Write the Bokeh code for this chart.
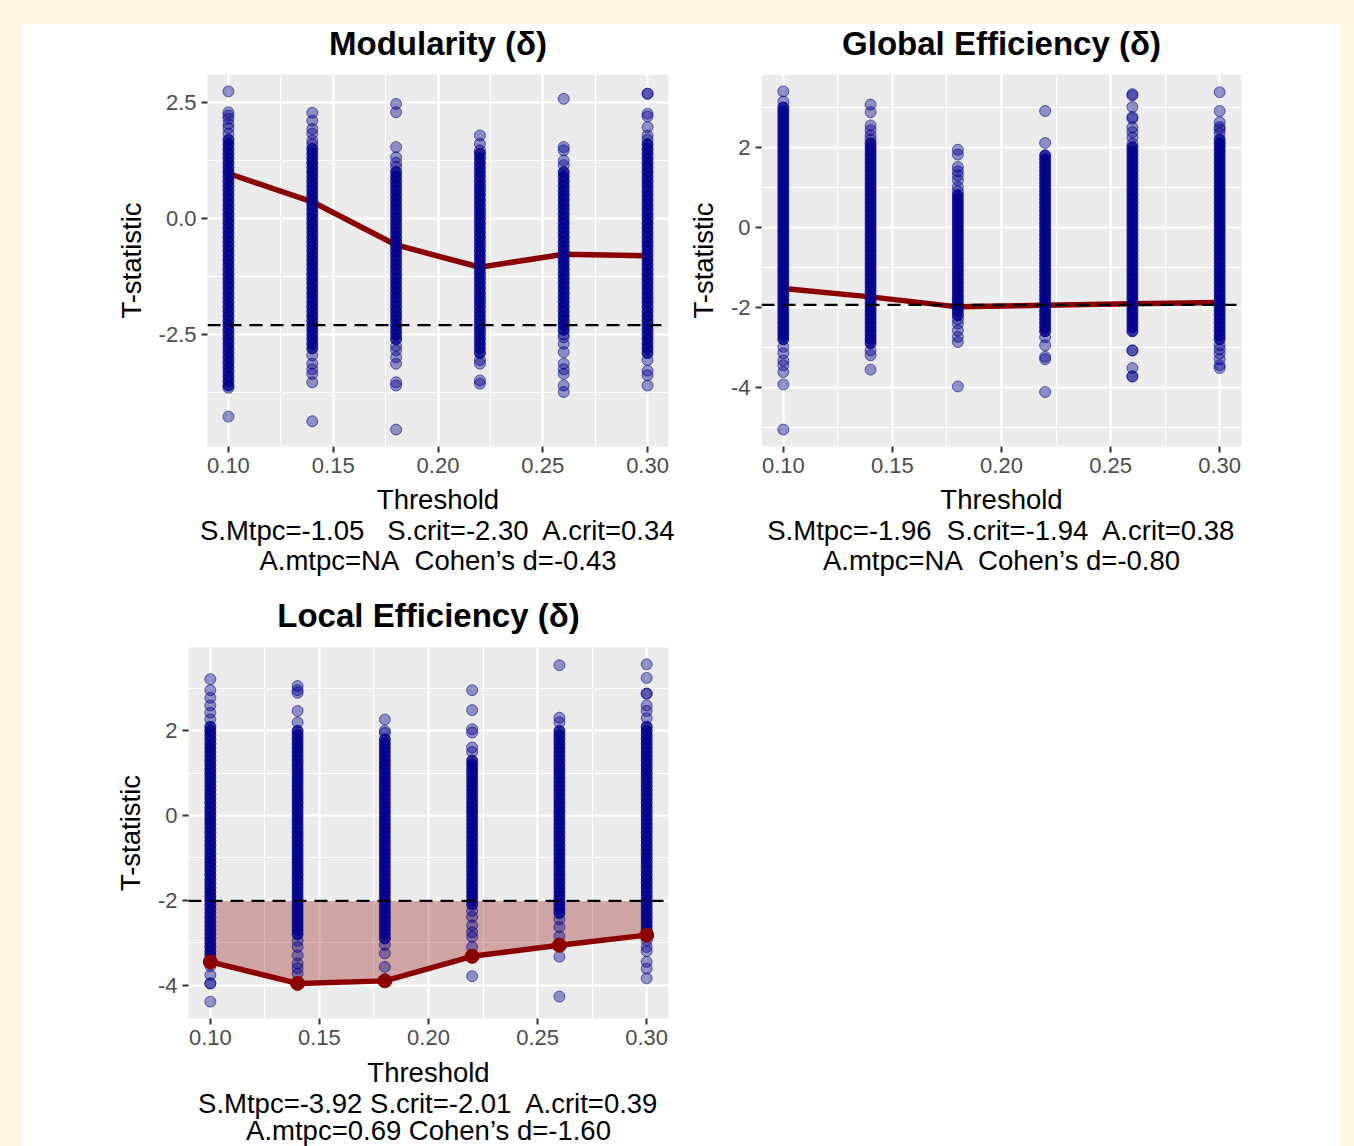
from bokeh.plotting import figure
from bokeh.layouts import column, row
from bokeh.models import Spacer, Span, FixedTicker, Range1d, NumeralTickFormatter
from bokeh.core.properties import value
from bokeh.embed import file_html
from bokeh.resources import INLINE

FONT = "Liberation Sans"
NB = "\u00a0"

# ---------------- data ----------------
thresholds = [0.10, 0.14, 0.18, 0.22, 0.26, 0.30]
x_ticks = [0.10, 0.15, 0.20, 0.25, 0.30]
x_minor = [0.125, 0.175, 0.225, 0.275]

# Modularity
mod_title = "Modularity (δ)"
mod_line = [0.97, 0.36, -0.57, -1.05, -0.77, -0.80]
mod_crit = -2.30
mod_yticks = [-2.5, 0.0, 2.5]
mod_yminor = [-3.75, -1.25, 1.25]
mod_caption = ["Threshold", "S.Mtpc=-1.05" + NB + NB + " S.crit=-2.30" + NB + " A.crit=0.34", "A.mtpc=NA" + NB + " Cohen’s d=-0.43"]
mod_core_10 = [-3.6, -3.5, -3.4, -3.3, -3.2, -3.1, -3.0, -2.9, -2.8, -2.7, -2.6, -2.5, -2.4, -2.3, -2.2, -2.1, -2.0, -1.9, -1.8, -1.7, -1.6, -1.5, -1.4, -1.3, -1.2, -1.1, -1.0, -0.9, -0.8, -0.7, -0.6, -0.5, -0.4, -0.3, -0.2, -0.1, 0.0, 0.1, 0.2, 0.3, 0.4, 0.5, 0.6, 0.7, 0.8, 0.9, 1.0, 1.1, 1.2, 1.3, 1.4, 1.5, 1.6, 1.7]
mod_tail_10 = [2.74, 2.29, 2.22, 2.15, 2.04, 1.95, 1.83, -3.65, -4.27]
mod_core_14 = [-2.8, -2.7, -2.6, -2.5, -2.4, -2.3, -2.2, -2.1, -2.0, -1.9, -1.8, -1.7, -1.6, -1.5, -1.4, -1.3, -1.2, -1.1, -1.0, -0.9, -0.8, -0.7, -0.6, -0.5, -0.4, -0.3, -0.2, -0.1, 0.0, 0.1, 0.2, 0.3, 0.4, 0.5, 0.6, 0.7, 0.8, 0.9, 1.0, 1.1, 1.2, 1.3, 1.4, 1.5]
mod_tail_14 = [2.28, 2.11, 1.93, 1.83, 1.68, 1.6, -2.95, -3.13, -3.25, -3.35, -3.53, -4.37]
mod_core_18 = [-2.6, -2.5, -2.4, -2.3, -2.2, -2.1, -2.0, -1.9, -1.8, -1.7, -1.6, -1.5, -1.4, -1.3, -1.2, -1.1, -1.0, -0.9, -0.8, -0.7, -0.6, -0.5, -0.4, -0.3, -0.2, -0.1, 0.0, 0.1, 0.2, 0.3, 0.4, 0.5, 0.6, 0.7, 0.8, 0.9, 1.0]
mod_tail_18 = [2.47, 2.29, 1.54, 1.32, 1.2, 1.11, -2.75, -2.84, -2.99, -3.13, -3.53, -3.60, -4.55]
mod_core_22 = [-2.9, -2.8, -2.7, -2.6, -2.5, -2.4, -2.3, -2.2, -2.1, -2.0, -1.9, -1.8, -1.7, -1.6, -1.5, -1.4, -1.3, -1.2, -1.1, -1.0, -0.9, -0.8, -0.7, -0.6, -0.5, -0.4, -0.3, -0.2, -0.1, 0.0, 0.1, 0.2, 0.3, 0.4, 0.5, 0.6, 0.7, 0.8, 0.9, 1.0, 1.1, 1.2, 1.3, 1.4]
mod_tail_22 = [1.79, 1.61, 1.47, -3.05, -3.13, -3.49, -3.56]
mod_core_26 = [-2.4, -2.3, -2.2, -2.1, -2.0, -1.9, -1.8, -1.7, -1.6, -1.5, -1.4, -1.3, -1.2, -1.1, -1.0, -0.9, -0.8, -0.7, -0.6, -0.5, -0.4, -0.3, -0.2, -0.1, 0.0, 0.1, 0.2, 0.3, 0.4, 0.5, 0.6, 0.7, 0.8, 0.9, 1.0]
mod_tail_26 = [2.58, 1.54, 1.47, 1.25, 1.15, -2.5, -2.56, -2.70, -2.88, -3.13, -3.25, -3.35, -3.60, -3.74]
mod_core_30 = [-2.9, -2.8, -2.7, -2.6, -2.5, -2.4, -2.3, -2.2, -2.1, -2.0, -1.9, -1.8, -1.7, -1.6, -1.5, -1.4, -1.3, -1.2, -1.1, -1.0, -0.9, -0.8, -0.7, -0.6, -0.5, -0.4, -0.3, -0.2, -0.1, 0.0, 0.1, 0.2, 0.3, 0.4, 0.5, 0.6, 0.7, 0.8, 0.9, 1.0, 1.1, 1.2, 1.3, 1.4, 1.5, 1.6]
mod_tail_30 = [2.69, 2.69, 2.26, 2.2, 1.97, 1.79, 1.7, -3.05, -3.28, -3.38, -3.60]

# Global efficiency
glob_title = "Global Efficiency (δ)"
glob_line = [-1.53, -1.74, -1.99, -1.95, -1.91, -1.88]
glob_crit = -1.94
glob_yticks = [-4, -2, 0, 2]
glob_yminor = [-5, -3, -1, 1, 3]
glob_caption = ["Threshold", "S.Mtpc=-1.96" + NB + " S.crit=-1.94" + NB + " A.crit=0.38", "A.mtpc=NA" + NB + " Cohen’s d=-0.80"]
glob_core_10 = [-2.8, -2.7, -2.6, -2.5, -2.4, -2.3, -2.2, -2.1, -2.0, -1.9, -1.8, -1.7, -1.6, -1.5, -1.4, -1.3, -1.2, -1.1, -1.0, -0.9, -0.8, -0.7, -0.6, -0.5, -0.4, -0.3, -0.2, -0.1, 0.0, 0.1, 0.2, 0.3, 0.4, 0.5, 0.6, 0.7, 0.8, 0.9, 1.0, 1.1, 1.2, 1.3, 1.4, 1.5, 1.6, 1.7, 1.8, 1.9, 2.0, 2.1, 2.2, 2.3, 2.4, 2.5, 2.6, 2.7, 2.8, 2.9, 3.0]
glob_tail_10 = [3.40, 3.15, -2.99, -3.15, -3.33, -3.45, -3.62, -3.93, -5.06]
glob_core_14 = [-2.9, -2.8, -2.7, -2.6, -2.5, -2.4, -2.3, -2.2, -2.1, -2.0, -1.9, -1.8, -1.7, -1.6, -1.5, -1.4, -1.3, -1.2, -1.1, -1.0, -0.9, -0.8, -0.7, -0.6, -0.5, -0.4, -0.3, -0.2, -0.1, 0.0, 0.1, 0.2, 0.3, 0.4, 0.5, 0.6, 0.7, 0.8, 0.9, 1.0, 1.1, 1.2, 1.3, 1.4, 1.5, 1.6, 1.7, 1.8, 1.9, 2.0, 2.1]
glob_tail_14 = [3.07, 2.88, 2.55, 2.43, 2.3, 2.2, -3.08, -3.2, -3.56]
glob_core_18 = [-2.2, -2.1, -2.0, -1.9, -1.8, -1.7, -1.6, -1.5, -1.4, -1.3, -1.2, -1.1, -1.0, -0.9, -0.8, -0.7, -0.6, -0.5, -0.4, -0.3, -0.2, -0.1, 0.0, 0.1, 0.2, 0.3, 0.4, 0.5, 0.6, 0.7, 0.8]
glob_tail_18 = [1.94, 1.82, 1.51, 1.4, 1.3, 1.18, 1.01, 0.9, -2.3, -2.41, -2.58, -2.74, -2.87, -3.98]
glob_core_22 = [-2.6, -2.5, -2.4, -2.3, -2.2, -2.1, -2.0, -1.9, -1.8, -1.7, -1.6, -1.5, -1.4, -1.3, -1.2, -1.1, -1.0, -0.9, -0.8, -0.7, -0.6, -0.5, -0.4, -0.3, -0.2, -0.1, 0.0, 0.1, 0.2, 0.3, 0.4, 0.5, 0.6, 0.7, 0.8, 0.9, 1.0, 1.1, 1.2, 1.3, 1.4, 1.5, 1.6, 1.7, 1.8]
glob_tail_22 = [2.91, 2.11, -2.75, -2.95, -3.24, -3.3, -4.12]
glob_core_26 = [-2.6, -2.5, -2.4, -2.3, -2.2, -2.1, -2.0, -1.9, -1.8, -1.7, -1.6, -1.5, -1.4, -1.3, -1.2, -1.1, -1.0, -0.9, -0.8, -0.7, -0.6, -0.5, -0.4, -0.3, -0.2, -0.1, 0.0, 0.1, 0.2, 0.3, 0.4, 0.5, 0.6, 0.7, 0.8, 0.9, 1.0, 1.1, 1.2, 1.3, 1.4, 1.5, 1.6, 1.7, 1.8, 1.9, 2.0]
glob_tail_26 = [3.33, 3.30, 3.01, 2.76, 2.72, 2.5, 2.38, 2.25, 2.09, -3.08, -3.08, -3.52, -3.73, -3.73]
glob_core_30 = [-2.8, -2.7, -2.6, -2.5, -2.4, -2.3, -2.2, -2.1, -2.0, -1.9, -1.8, -1.7, -1.6, -1.5, -1.4, -1.3, -1.2, -1.1, -1.0, -0.9, -0.8, -0.7, -0.6, -0.5, -0.4, -0.3, -0.2, -0.1, 0.0, 0.1, 0.2, 0.3, 0.4, 0.5, 0.6, 0.7, 0.8, 0.9, 1.0, 1.1, 1.2, 1.3, 1.4, 1.5, 1.6, 1.7, 1.8, 1.9, 2.0, 2.1, 2.2]
glob_tail_30 = [3.38, 2.91, 2.63, 2.51, 2.45, 2.35, -2.95, -3.05, -3.16, -3.3, -3.45, -3.52]

# Local efficiency
loc_title = "Local Efficiency (δ)"
loc_line = [-3.45, -3.96, -3.90, -3.32, -3.06, -2.82]
loc_crit = -2.01
loc_yticks = [-4, -2, 0, 2]
loc_yminor = [-3, -1, 1, 3]
loc_caption = ["Threshold", "S.Mtpc=-3.92 S.crit=-2.01" + NB + " A.crit=0.39", "A.mtpc=0.69 Cohen’s d=-1.60"]
loc_core_10 = [-3.4, -3.3, -3.2, -3.1, -3.0, -2.9, -2.8, -2.7, -2.6, -2.5, -2.4, -2.3, -2.2, -2.1, -2.0, -1.9, -1.8, -1.7, -1.6, -1.5, -1.4, -1.3, -1.2, -1.1, -1.0, -0.9, -0.8, -0.7, -0.6, -0.5, -0.4, -0.3, -0.2, -0.1, 0.0, 0.1, 0.2, 0.3, 0.4, 0.5, 0.6, 0.7, 0.8, 0.9, 1.0, 1.1, 1.2, 1.3, 1.4, 1.5, 1.6, 1.7, 1.8, 1.9, 2.0, 2.1]
loc_tail_10 = [3.22, 2.96, 2.78, 2.6, 2.43, 2.27, -3.55, -3.76, -3.96, -3.96, -4.39]
loc_core_14 = [-2.8, -2.7, -2.6, -2.5, -2.4, -2.3, -2.2, -2.1, -2.0, -1.9, -1.8, -1.7, -1.6, -1.5, -1.4, -1.3, -1.2, -1.1, -1.0, -0.9, -0.8, -0.7, -0.6, -0.5, -0.4, -0.3, -0.2, -0.1, 0.0, 0.1, 0.2, 0.3, 0.4, 0.5, 0.6, 0.7, 0.8, 0.9, 1.0, 1.1, 1.2, 1.3, 1.4, 1.5, 1.6, 1.7, 1.8, 1.9, 2.0]
loc_tail_14 = [3.06, 2.96, 2.90, 2.47, 2.2, -2.95, -3.1, -3.3, -3.49, -3.6, -3.73]
loc_core_18 = [-2.9, -2.8, -2.7, -2.6, -2.5, -2.4, -2.3, -2.2, -2.1, -2.0, -1.9, -1.8, -1.7, -1.6, -1.5, -1.4, -1.3, -1.2, -1.1, -1.0, -0.9, -0.8, -0.7, -0.6, -0.5, -0.4, -0.3, -0.2, -0.1, 0.0, 0.1, 0.2, 0.3, 0.4, 0.5, 0.6, 0.7, 0.8, 0.9, 1.0, 1.1, 1.2, 1.3, 1.4, 1.5, 1.6, 1.7, 1.8]
loc_tail_18 = [2.27, 2.0, 1.95, -3.05, -3.25, -3.57]
loc_core_22 = [-2.1, -2.0, -1.9, -1.8, -1.7, -1.6, -1.5, -1.4, -1.3, -1.2, -1.1, -1.0, -0.9, -0.8, -0.7, -0.6, -0.5, -0.4, -0.3, -0.2, -0.1, 0.0, 0.1, 0.2, 0.3, 0.4, 0.5, 0.6, 0.7, 0.8, 0.9, 1.0, 1.1, 1.2, 1.3]
loc_tail_22 = [2.96, 2.49, 2.04, 1.96, 1.61, 1.5, -2.25, -2.39, -2.59, -2.75, -2.86, -3.1, -3.29, -3.79]
loc_core_26 = [-2.3, -2.2, -2.1, -2.0, -1.9, -1.8, -1.7, -1.6, -1.5, -1.4, -1.3, -1.2, -1.1, -1.0, -0.9, -0.8, -0.7, -0.6, -0.5, -0.4, -0.3, -0.2, -0.1, 0.0, 0.1, 0.2, 0.3, 0.4, 0.5, 0.6, 0.7, 0.8, 0.9, 1.0, 1.1, 1.2, 1.3, 1.4, 1.5, 1.6, 1.7, 1.8, 1.9, 2.0]
loc_tail_26 = [3.55, 2.31, 2.2, -2.45, -2.63, -2.85, -3.02, -3.33, -4.27]
loc_core_30 = [-2.8, -2.7, -2.6, -2.5, -2.4, -2.3, -2.2, -2.1, -2.0, -1.9, -1.8, -1.7, -1.6, -1.5, -1.4, -1.3, -1.2, -1.1, -1.0, -0.9, -0.8, -0.7, -0.6, -0.5, -0.4, -0.3, -0.2, -0.1, 0.0, 0.1, 0.2, 0.3, 0.4, 0.5, 0.6, 0.7, 0.8, 0.9, 1.0, 1.1, 1.2, 1.3, 1.4, 1.5, 1.6, 1.7, 1.8, 1.9, 2.0, 2.1]
loc_tail_30 = [3.57, 3.25, 2.88, 2.88, 2.6, 2.47, 2.3, -2.95, -3.1, -3.2, -3.45, -3.61, -3.84]

mod_core = [mod_core_10, mod_core_14, mod_core_18, mod_core_22, mod_core_26, mod_core_30]
mod_tail = [mod_tail_10, mod_tail_14, mod_tail_18, mod_tail_22, mod_tail_26, mod_tail_30]
glob_core = [glob_core_10, glob_core_14, glob_core_18, glob_core_22, glob_core_26, glob_core_30]
glob_tail = [glob_tail_10, glob_tail_14, glob_tail_18, glob_tail_22, glob_tail_26, glob_tail_30]
loc_core = [loc_core_10, loc_core_14, loc_core_18, loc_core_22, loc_core_26, loc_core_30]
loc_tail = [loc_tail_10, loc_tail_14, loc_tail_18, loc_tail_22, loc_tail_26, loc_tail_30]

# ---------------- styles / layout ----------------
BLUE = "#00008B"
RED = "#8B0000"
PANEL_BG = "#EBEBEB"
CREAM = "#FEF8E0"

LEFT_PAD, RIGHT_PAD, TOP_PAD = 22, 14, 24
STRIP_W = 1318            # width of the white sheet
FRAME_W = [461, 480, 480]
BORDER_L = [185, 78, 166]
FIG_W = [661, 657, 661]
AX_H = 36                 # room for the x tick labels under each frame


def expand(lo, hi, frac=0.05):
    d = (hi - lo) * frac
    return lo - d, hi + d


def make_panel(line, crit, core, tail, yticks, yminor, yfmt, width, frame_h, bl, frame_w,
               ribbon=False, dots=False):
    allv = [v for c in core for v in c] + [v for t in tail for v in t] + list(line) + [crit]
    ylo, yhi = expand(min(allv), max(allv))
    xlo, xhi = expand(min(thresholds), max(thresholds))
    p = figure(width=width, height=frame_h + AX_H, output_backend="svg", toolbar_location=None,
               x_range=Range1d(xlo, xhi), y_range=Range1d(ylo, yhi),
               min_border_left=bl, min_border_right=width - bl - frame_w,
               min_border_top=0, min_border_bottom=AX_H,
               background_fill_color=PANEL_BG, border_fill_color="white", outline_line_color=None)

    p.xaxis.ticker = FixedTicker(ticks=x_ticks, minor_ticks=x_minor)
    p.yaxis.ticker = FixedTicker(ticks=yticks, minor_ticks=yminor)
    p.xaxis.formatter = NumeralTickFormatter(format="0.00")
    p.yaxis.formatter = NumeralTickFormatter(format=yfmt)
    for ax in (p.xaxis, p.yaxis):
        ax.axis_line_color = None
        ax.major_tick_line_color = "#333333"
        ax.major_tick_line_width = 2
        ax.major_tick_in = 0
        ax.major_tick_out = 6
        ax.minor_tick_line_color = None
        ax.major_label_text_font = FONT
        ax.major_label_text_font_size = "22px"
        ax.major_label_text_color = "#4D4D4D"
    p.xaxis.major_label_standoff = 5
    p.yaxis.major_label_standoff = 5
    p.yaxis.axis_label = "T-statistic"
    p.yaxis.axis_label_text_font = FONT
    p.yaxis.axis_label_text_font_size = "27.5px"
    p.yaxis.axis_label_text_font_style = "normal"
    p.yaxis.axis_label_text_color = "black"
    p.yaxis.axis_label_standoff = 9

    for g in (p.xgrid, p.ygrid):
        g.grid_line_color = "white"
        g.grid_line_width = 2.2
        g.minor_grid_line_color = "white"
        g.minor_grid_line_width = 1.1

    if ribbon:
        p.varea(x=thresholds, y1=line, y2=[crit] * len(thresholds), fill_color=RED, fill_alpha=0.3)
    p.line(thresholds, line, line_color=RED, line_width=5.5)
    for t, c, tl in zip(thresholds, core, tail):
        p.scatter([t] * len(c), c, size=11, fill_color=BLUE, line_color=BLUE,
                  fill_alpha=0.8, line_alpha=0.8)
        p.scatter([t] * len(tl), tl, size=11, fill_color=BLUE, line_color=BLUE,
                  fill_alpha=0.4, line_alpha=0.55)
    p.add_layout(Span(location=crit, dimension="width", line_color="black",
                      line_dash="13 8", line_width=2.2))
    if dots:
        p.scatter(thresholds, line, size=14, fill_color=RED, line_color=RED)
    return p


def text_strip(height, xs, pos_from_top, texts, size, style):
    s = figure(width=STRIP_W, height=height, output_backend="svg", toolbar_location=None,
               x_range=Range1d(0, STRIP_W), y_range=Range1d(0, height),
               x_axis_type=None, y_axis_type=None, min_border=0,
               background_fill_color="white", border_fill_color="white", outline_line_color=None)
    s.text(x=xs, y=[height - b for b in pos_from_top], text=texts,
           text_align="center", text_baseline="alphabetic", text_font=value(FONT),
           text_font_size=value(size), text_font_style=style, text_color="black")
    return s


# frame centres measured from the left edge of the white sheet
cx1 = BORDER_L[0] + FRAME_W[0] / 2
cx2 = FIG_W[0] + BORDER_L[1] + FRAME_W[1] / 2
cx3 = BORDER_L[2] + FRAME_W[2] / 2

p1 = make_panel(mod_line, mod_crit, mod_core, mod_tail, mod_yticks, mod_yminor, "0.0",
                FIG_W[0], 372, BORDER_L[0], FRAME_W[0])
p2 = make_panel(glob_line, glob_crit, glob_core, glob_tail, glob_yticks, glob_yminor, "0",
                FIG_W[1], 372, BORDER_L[1], FRAME_W[1])
p3 = make_panel(loc_line, loc_crit, loc_core, loc_tail, loc_yticks, loc_yminor, "0",
                FIG_W[2], 371, BORDER_L[2], FRAME_W[2], ribbon=True, dots=True)

CAP1_H = 590 - (24 + 50 + 372 + AX_H)
CAP2_H = 1146 - (590 + 57 + 371 + AX_H)

title1 = text_strip(50, [cx1, cx2], [19.0, 19.0], [mod_title, glob_title], "33px", "bold")
cap1 = text_strip(CAP1_H, [cx1] * 3 + [cx2] * 3, [17.0, 48.0, 78.0] * 2,
                  mod_caption + glob_caption, "27.5px", "normal")
title2 = text_strip(57, [cx3], [24.6], [loc_title], "33px", "bold")
cap2 = text_strip(CAP2_H, [cx3] * 3, [18.0, 48.5, 76.0], loc_caption, "27.5px", "normal")

cream = {"background-color": CREAM}
white = {"background-color": "white"}


def band(*items, h):
    return row(Spacer(width=LEFT_PAD, height=h, styles=cream), *items,
               Spacer(width=RIGHT_PAD, height=h, styles=cream), styles=white)


layout = column(
    Spacer(width=LEFT_PAD + STRIP_W + RIGHT_PAD, height=TOP_PAD, styles=cream),
    band(title1, h=50),
    band(p1, p2, h=372 + AX_H),
    band(cap1, h=CAP1_H),
    band(title2, h=57),
    band(p3, Spacer(width=FIG_W[1], height=371 + AX_H, styles=white), h=371 + AX_H),
    band(cap2, h=CAP2_H),
    styles=cream,
)

open("out.html", "w").write(file_html(layout, INLINE))
